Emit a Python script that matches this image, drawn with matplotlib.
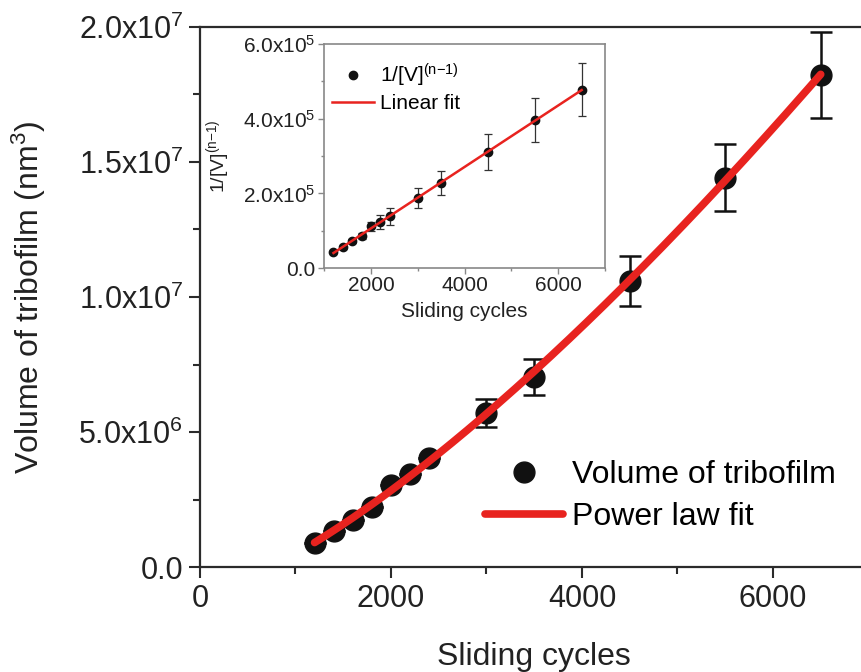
import matplotlib
matplotlib.use("Agg")
import matplotlib.pyplot as plt
import numpy as np
from matplotlib.ticker import FuncFormatter, MultipleLocator

plt.rcParams["font.family"] = ["Liberation Sans", "DejaVu Sans"]
plt.rcParams["mathtext.default"] = "regular"

cycles = np.array([1200, 1400, 1600, 1800, 2000, 2200, 2400, 3000, 3500, 4500, 5500, 6500])
volume = np.array([0.89, 1.33, 1.74, 2.22, 3.04, 3.44, 4.04, 5.70, 7.04, 10.59, 14.41, 18.22]) * 1e6
volume_err = np.array([0, 0, 0, 0, 0, 0, 0, 0.52, 0.68, 0.93, 1.24, 1.59]) * 1e6
inv_v = np.array([0.43, 0.56, 0.72, 0.86, 1.12, 1.23, 1.39, 1.88, 2.28, 3.11, 3.96, 4.77]) * 1e5
inv_v_err = np.array([0.03, 0.04, 0.05, 0.07, 0.12, 0.19, 0.23, 0.27, 0.33, 0.47, 0.59, 0.71]) * 1e5

# power law fit y = a + b*x^c (least squares, exponent by grid search)
fit_x = np.linspace(cycles.min(), cycles.max(), 200)
best = None
for c in np.arange(0.8, 2.5, 0.005):
    A = np.column_stack([np.ones_like(cycles, dtype=float), cycles ** c])
    coef, *_ = np.linalg.lstsq(A, volume, rcond=None)
    r = np.sum((A @ coef - volume) ** 2)
    if best is None or r < best[0]:
        best = (r, c, coef)
_, c, coef = best
fit_v = coef[0] + coef[1] * fit_x ** c
k, c0 = np.polyfit(cycles, inv_v, 1)
lin_y = k * fit_x + c0

red = "#e8231f"
dark = "#2b2b2b"
txt = "#222222"


def sci():
    def f(v, pos):
        if v == 0:
            return "0.0"
        e = int(np.floor(np.log10(abs(v))))
        return f"{v / 10 ** e:.1f}x10$^{{{e}}}$"
    return FuncFormatter(f)


fig = plt.figure(figsize=(8.62, 6.72), dpi=100)
ax = fig.add_axes([0.232, 0.156, 0.7755, 0.804])
ax.errorbar(cycles, volume, yerr=volume_err, fmt="none", ecolor="#111111",
            elinewidth=1.8, capsize=8, capthick=1.8, zorder=2)
ax.plot(cycles, volume, "o", color="#111111", ms=15, zorder=2, label="Volume of tribofilm")
ax.plot(fit_x, fit_v, color=red, lw=5.5, solid_capstyle="round", zorder=3, label="Power law fit")
ax.set_xlim(0, 7000)
ax.set_ylim(0, 2.0e7)
ax.xaxis.set_major_locator(MultipleLocator(2000))
ax.xaxis.set_minor_locator(MultipleLocator(1000))
ax.yaxis.set_major_locator(MultipleLocator(5e6))
ax.yaxis.set_minor_locator(MultipleLocator(2.5e6))
ax.yaxis.set_major_formatter(sci())
for s in ax.spines.values():
    s.set_color(dark)
    s.set_linewidth(1.6)
ax.tick_params(which="major", length=8, width=1.5, colors=dark, labelsize=22, labelcolor=txt, pad=4)
ax.tick_params(which="minor", length=5, width=1.5, colors=dark)
ax.set_xlabel("Sliding cycles", fontsize=23, color=txt, labelpad=20)
ax.set_ylabel("Volume of tribofilm (nm$^3$)", fontsize=23, color=txt, labelpad=22)
ax.legend(loc="upper left", bbox_to_anchor=(0.427, 0.198), frameon=False, fontsize=23,
          handlelength=2.44, handletextpad=0.28, labelspacing=0.38, borderpad=0,
          borderaxespad=0, numpoints=1)

ins = fig.add_axes([0.376, 0.601, 0.326, 0.3335])
ins.errorbar(cycles, inv_v, yerr=inv_v_err, fmt="none", ecolor="#333333",
             elinewidth=0.9, capsize=3, capthick=0.9, zorder=2)
ins.plot(cycles, inv_v, "o", color="#111111", ms=6, zorder=2, label="1/[V]$^{(n{-}1)}$")
ins.plot(fit_x, lin_y, color=red, lw=1.8, zorder=3, label="Linear fit")
ins.set_xlim(1000, 7000)
ins.set_ylim(0, 6e5)
ins.xaxis.set_major_locator(MultipleLocator(2000))
ins.xaxis.set_minor_locator(MultipleLocator(1000))
ins.yaxis.set_major_locator(MultipleLocator(2e5))
ins.yaxis.set_minor_locator(MultipleLocator(1e5))
ins.yaxis.set_major_formatter(sci())
for s in ins.spines.values():
    s.set_color("#888888")
    s.set_linewidth(1.2)
ins.tick_params(which="major", length=4, width=1, colors="#888888", labelsize=15, labelcolor=txt, pad=2)
ins.tick_params(which="minor", length=2.5, width=1, colors="#888888")
ins.set_xlabel("Sliding cycles", fontsize=15, color=txt, labelpad=5)
ins.set_ylabel("1/[V]$^{(n{-}1)}$", fontsize=14, color=txt, labelpad=8)
ins.legend(loc="upper left", bbox_to_anchor=(0.028, 0.92), frameon=False, fontsize=15,
           handlelength=2.0, handletextpad=0.3, labelspacing=0.25, borderpad=0,
           borderaxespad=0, numpoints=1)

fig.savefig("out.png", dpi=100)
